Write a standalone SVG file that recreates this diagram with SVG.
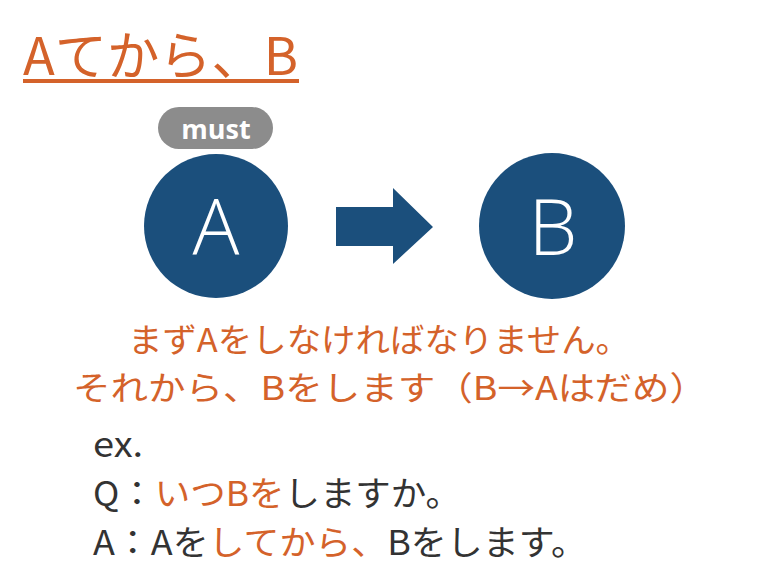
<svg xmlns="http://www.w3.org/2000/svg" width="768" height="576" viewBox="0 0 768 576">
<style>
.jp{font-family:"Noto Sans CJK JP","Noto Sans",sans-serif;}
.or{fill:#d4622a;}
.dk{fill:#333333;}
.node{fill:#1b4f7c;}
.lbl{font-family:"Open Sans","Noto Sans",sans-serif;font-weight:300;font-size:78px;fill:#ffffff;text-anchor:middle;}
</style>
<rect width="768" height="576" fill="#ffffff"/>
<g id="title">
<text class="jp or" x="23" y="75" font-size="52" textLength="275" lengthAdjust="spacingAndGlyphs">Aてから、B</text>
<rect x="23" y="79" width="276" height="4" fill="#d4622a"/>
</g>
<g id="must">
<rect x="158" y="107" width="115" height="42" rx="21" fill="#8c8c8c"/>
<text x="216" y="139" font-family="'Open Sans','Noto Sans',sans-serif" font-weight="700" font-size="27" fill="#ffffff" text-anchor="middle">must</text>
</g>
<g id="nodeA">
<circle class="node" cx="216" cy="226" r="72"/>
<text class="lbl" x="216" y="255">A</text>
</g>
<g id="nodeB">
<circle class="node" cx="552" cy="226" r="73"/>
<text class="lbl" x="553" y="255">B</text>
</g>
<g id="connectors">
<polygon class="node" points="336,207 393,207 393,188 433,227 393,264 393,246 336,246"/>
</g>
<g id="explain">
<text class="jp or" x="128" y="352" font-size="33" textLength="502" lengthAdjust="spacingAndGlyphs">まずAをしなければなりません。</text>
<text class="jp or" x="73" y="400" font-size="33" textLength="634" lengthAdjust="spacingAndGlyphs">それから、Bをします（B→Aはだめ）</text>
</g>
<g id="example">
<text class="jp dk" x="93" y="457" font-size="35" textLength="50" lengthAdjust="spacingAndGlyphs">ex.</text>
<text class="jp dk" x="93" y="506" font-size="34" textLength="368" lengthAdjust="spacingAndGlyphs">Q：<tspan class="or">いつBを</tspan>しますか。</text>
<text class="jp dk" x="93" y="555" font-size="34" textLength="494" lengthAdjust="spacingAndGlyphs">A：Aを<tspan class="or">してから、</tspan>Bをします。</text>
</g>
</svg>
